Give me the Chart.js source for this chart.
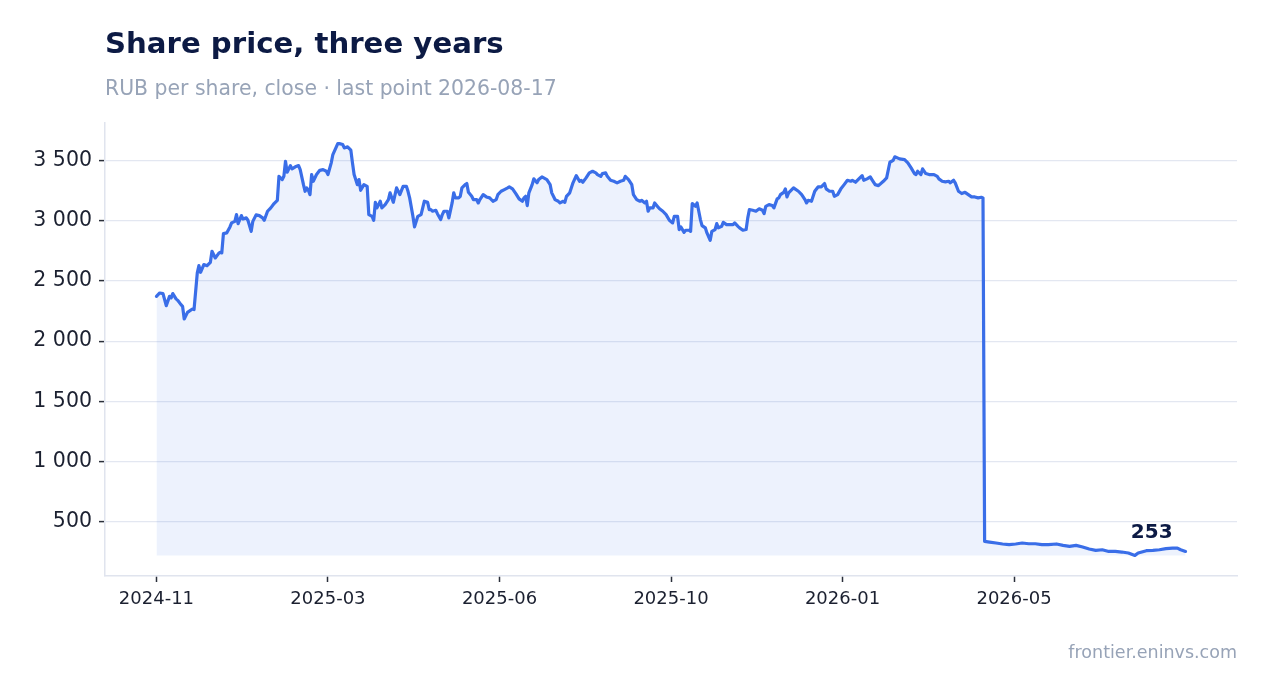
<!DOCTYPE html>
<html>
<head>
<meta charset="utf-8">
<script src="https://cdn.jsdelivr.net/npm/chart.js@4.4.1/dist/chart.umd.min.js"></script>
<style>
  html, body { margin: 0; padding: 0; background: #ffffff; }
  #wrap { position: relative; width: 1267px; height: 693px; }
</style>
</head>
<body>
<div id="wrap"><canvas id="c"></canvas></div>
<script>
// ---- data ----
const titleText = 'Share price, three years';
const subtitleText = 'RUB per share, close · last point 2026-08-17';
const sourceText = 'frontier.eninvs.com';
const startDate = '2024-11-25';
const tickLabels = ['2024-11', '2025-03', '2025-06', '2025-10', '2026-01', '2026-05'];
const tickDays = [0, 105, 210, 315, 420, 525];
const yTickValues = [500, 1000, 1500, 2000, 2500, 3000, 3500];

// days since startDate
const dayOffset = [
  0,2,4,6,8,9,10,12,13,15,16,17,19,22,23,25,26,27,29,31,33,34,36,38,39,40,41,43,45,46,48,49,50,52,53,55,56,58,59,61,63,65,66,68,70,72,74,75,77,78,79,80,82,83,85,87,88,90,91,92,93,94,95,96,98,100,102,104,105,107,108,111,112,114,115,117,119,120,121,123,124,125,127,129,130,132,133,134,135,137,138,140,142,143,145,147,149,
  151,153,154,155,157,158,160,162,163,164,166,167,168,169,171,172,174,175,176,178,179,181,182,183,185,186,187,189,190,191,193,194,196,197,198,200,202,204,206,208,209,211,213,215,216,218,220,222,224,225,226,227,228,230,231,233,234,236,239,241,242,244,246,247,249,250,251,253,255,257,259,260,261,263,265,267,269,270,272,273,275,276,278,280,282,284,286,287,289,291,292,294,296,297,299,300,301,302,304,305,307,308,310,312,314,316,317,319,320,321,323,324,326,
  327,328,330,331,333,334,336,337,339,340,342,343,344,346,347,349,351,353,354,356,357,359,361,362,363,365,367,369,371,372,373,375,377,378,380,381,382,384,385,386,387,390,393,395,397,398,399,401,403,405,407,409,410,412,414,415,417,419,421,423,425,426,428,430,432,433,435,437,438,440,442,445,447,449,451,452,455,458,460,462,464,465,466,468,469,471,473,476,478,479,481,483,485,486,488,489,491,493,495,497,499,501,503,505,506,
  507,510,514,518,522,526,530,534,538,542,546,551,555,559,563,567,571,575,579,583,587,591,595,599,601,606,610,614,618,622,625,627,630
];
// close price, RUB
const closePrice = [
  2372,2400,2395,2295,2372,2359,2395,2351,2339,2303,2289,2184,2239,2267,2262,2567,2627,2572,2636,2627,2655,2746,2691,2727,2738,2733,2893,2899,2949,2982,2995,3051,2976,3043,3015,3024,3004,2912,2995,3049,3043,3024,3004,3079,3107,3143,3170,3369,3342,3369,3494,3403,3458,3431,3448,3458,3425,3300,3245,3273,3253,3217,3384,3328,3384,3419,3425,3411,3384,3481,3550,3641,3641,3633,3605,3614,3586,3481,3384,3300,3342,3253,3300,3286,3051,3037,3004,3153,3107,3162,3107,3134,3176,3232,3153,3273,3217,
  3286,3286,3245,3190,3037,2949,3037,3051,3107,3162,3153,3093,3093,3079,3087,3059,3010,3051,3079,3079,3024,3148,3232,3190,3190,3203,3273,3300,3309,3236,3203,3176,3176,3148,3176,3217,3198,3190,3162,3176,3217,3245,3259,3273,3281,3265,3226,3182,3162,3190,3203,3126,3232,3300,3348,3315,3342,3364,3342,3300,3232,3176,3162,3148,3162,3153,3203,3232,3315,3375,3328,3336,3320,3356,3398,3411,3398,3384,3369,3392,3398,3369,3336,3328,3315,3328,3336,3369,3342,3300,3217,3176,3162,3170,3148,3162,3079,3107,3107,3148,3115,3099,3079,3051,3004,2982,3037,3037,2927,2949,2904,2921,2921,
  2912,3143,3120,3148,3010,2960,2941,2899,2838,2912,2927,2976,2941,2954,2987,2968,2968,2968,2982,2954,2941,2921,2927,3024,3093,3087,3079,3099,3087,3059,3120,3134,3126,3107,3182,3190,3217,3236,3265,3198,3232,3273,3245,3217,3176,3148,3170,3162,3245,3281,3281,3309,3265,3245,3245,3203,3217,3265,3300,3336,3328,3336,3320,3348,3375,3336,3348,3364,3342,3300,3292,3328,3356,3486,3502,3531,3514,3508,3481,3439,3392,3384,3411,3384,3431,3392,3384,3384,3369,3348,3328,3323,3328,3315,3336,3315,3245,3226,3236,3217,3198,3198,3190,3195,3190,
  336,331,323,315,309,315,323,317,317,309,309,315,303,295,303,290,273,262,267,253,253,248,240,220,240,259,262,267,276,281,281,267,253
];

// ---- derived ----
const points = dayOffset.map((d, i) => ({ x: d, y: closePrice[i] }));
const minV = Math.min(...closePrice);
const maxV = Math.max(...closePrice);
const yPad = (maxV - minV) * 0.05;
const lastDay = dayOffset[dayOffset.length - 1];
const xPad = lastDay * 0.05;

const fmtThousands = v => String(Math.round(v)).replace(/\B(?=(\d{3})+(?!\d))/g, ' ');

const FONT = "'DejaVu Sans', sans-serif";
const NAVY = '#0c1a44';
const GREY = '#97a3b7';
const TICK = '#1b2030';
const LINE = '#3a6ee8';

const textPlugin = {
  id: 'texts',
  afterDraw(chart) {
    const c = chart.ctx;
    c.save();
    c.textBaseline = 'alphabetic';
    c.textAlign = 'left';
    c.fillStyle = NAVY;
    c.font = 'bold 29.2px ' + FONT;
    c.fillText(titleText, 105, 53);
    c.fillStyle = GREY;
    c.font = '20.4px ' + FONT;
    c.fillText(subtitleText, 105, 95);
    c.textAlign = 'right';
    c.font = '17.5px ' + FONT;
    c.fillText(sourceText, 1237, 658);
    // last value label
    const meta = chart.getDatasetMeta(0);
    const last = meta.data[meta.data.length - 1];
    c.fillStyle = NAVY;
    c.font = 'bold 20px ' + FONT;
    c.textAlign = 'right';
    c.fillText(fmtThousands(closePrice[closePrice.length - 1]), last.x - 13, last.y - 13);
    c.restore();
  }
};

new Chart(document.getElementById('c'), {
  type: 'line',
  data: {
    datasets: [{
      data: points,
      borderColor: LINE,
      borderWidth: 3.2,
      backgroundColor: 'rgba(58,110,232,0.09)',
      fill: { value: minV },
      pointRadius: 0,
      pointHoverRadius: 0,
      tension: 0,
      borderJoinStyle: 'round',
      borderCapStyle: 'round'
    }]
  },
  options: {
    responsive: true,
    maintainAspectRatio: false,
    animation: false,
    events: [],
    layout: { padding: { top: 123, left: 0, right: 30, bottom: 67 } },
    plugins: { legend: { display: false }, tooltip: { enabled: false }, title: { display: false } },
    scales: {
      x: {
        type: 'linear',
        min: -xPad,
        max: lastDay + xPad,
        border: { display: true, color: '#e0e4ee', width: 1.5 },
        grid: { display: true, drawOnChartArea: false, drawTicks: true, tickLength: 6, tickColor: '#2a2f3a', tickWidth: 1.5 },
        afterBuildTicks: (scale) => { scale.ticks = tickDays.map(v => ({ value: v })); },
        ticks: {
          autoSkip: false,
          maxRotation: 0,
          padding: 7,
          color: TICK,
          font: { family: FONT, size: 18 },
          callback: (v) => { const k = tickDays.indexOf(v); return k >= 0 ? tickLabels[k] : ''; }
        },
        afterFit: (scale) => { scale.height = 50; }
      },
      y: {
        type: 'linear',
        min: minV - yPad,
        max: maxV + yPad,
        border: { display: true, color: '#e0e4ee', width: 1.5 },
        grid: { color: '#e3e7f1', lineWidth: 1.2, drawTicks: true, tickLength: 6, tickColor: '#2a2f3a', tickWidth: 1.5 },
        afterBuildTicks: (scale) => { scale.ticks = yTickValues.map(v => ({ value: v })); },
        ticks: {
          autoSkip: false,
          padding: 7,
          color: TICK,
          font: { family: FONT, size: 20.5 },
          callback: (v) => fmtThousands(v)
        },
        afterFit: (scale) => { scale.width = 105; }
      }
    }
  },
  plugins: [textPlugin]
});
</script>
</body>
</html>
